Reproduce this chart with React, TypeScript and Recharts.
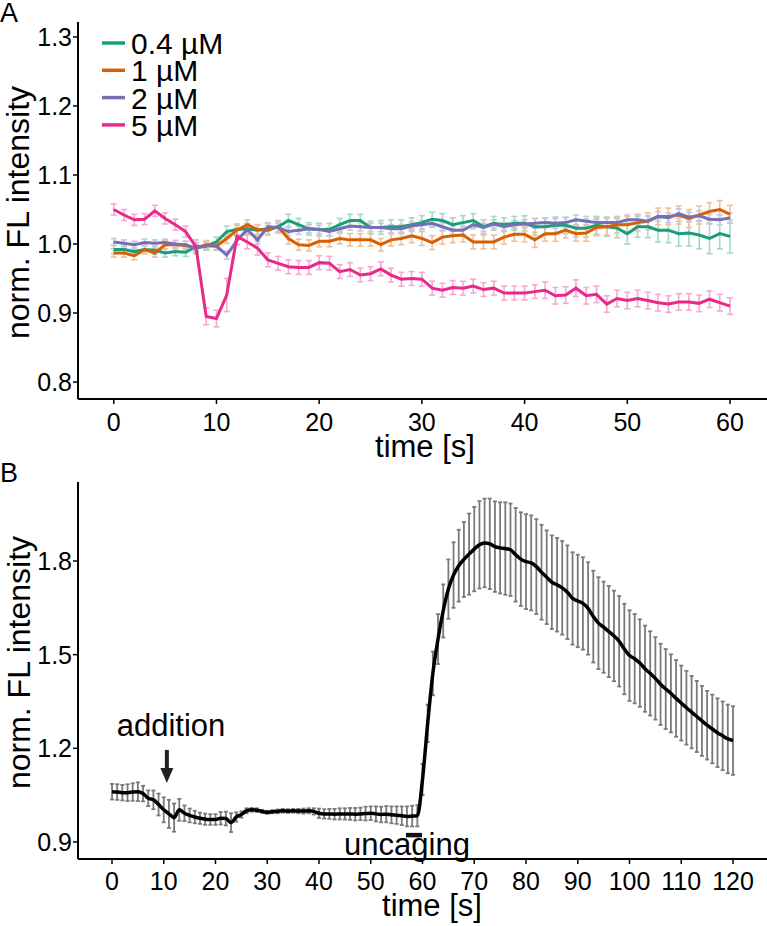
import React from 'react';
import { LineChart, Line, XAxis, YAxis, ErrorBar, ReferenceLine, ReferenceDot } from 'recharts';

const FONT = '"Liberation Sans", Arial, Helvetica, sans-serif';

// ---------- Panel A data ----------
const timeA = [0,1,2,3,4,5,6,7,8,9,10,11,12,13,14,15,16,17,18,19,20,21,22,23,24,25,26,27,28,29,30,31,32,33,34,35,36,37,38,39,40,41,42,43,44,45,46,47,48,49,50,51,52,53,54,55,56,57,58,59,60];
const green04 = [0.992,0.992,0.989,0.992,0.991,0.987,0.989,0.988,0.996,0.997,1.003,1.018,1.021,1.022,1.020,1.022,1.025,1.034,1.028,1.022,1.021,1.021,1.028,1.034,1.034,1.024,1.024,1.025,1.025,1.028,1.031,1.036,1.034,1.028,1.031,1.034,1.025,1.030,1.028,1.030,1.030,1.025,1.025,1.027,1.027,1.023,1.023,1.027,1.025,1.023,1.015,1.025,1.025,1.020,1.020,1.015,1.016,1.013,1.008,1.015,1.011];
const green04Err = [0.006,0.006,0.006,0.006,0.006,0.006,0.006,0.006,0.006,0.006,0.007,0.008,0.008,0.008,0.008,0.008,0.009,0.009,0.009,0.009,0.009,0.009,0.009,0.009,0.009,0.009,0.010,0.010,0.010,0.010,0.010,0.010,0.010,0.010,0.010,0.010,0.010,0.010,0.010,0.010,0.011,0.012,0.012,0.012,0.012,0.013,0.013,0.013,0.014,0.014,0.015,0.015,0.016,0.017,0.018,0.018,0.019,0.020,0.022,0.022,0.024];
const orange1 = [0.987,0.987,0.983,0.992,0.987,0.999,0.999,0.998,0.994,0.999,0.997,1.008,1.020,1.028,1.021,1.020,1.025,1.008,0.999,0.998,1.004,1.004,1.008,1.006,1.006,1.006,0.999,1.006,1.008,1.012,1.008,1.002,1.010,1.012,1.013,1.003,1.003,1.003,1.010,1.014,1.014,1.006,1.015,1.015,1.020,1.015,1.016,1.024,1.025,1.028,1.028,1.031,1.033,1.040,1.040,1.042,1.037,1.042,1.047,1.050,1.043];
const orange1Err = [0.006,0.006,0.006,0.006,0.006,0.006,0.006,0.006,0.006,0.006,0.006,0.007,0.007,0.007,0.007,0.007,0.008,0.008,0.008,0.008,0.008,0.008,0.008,0.009,0.009,0.009,0.009,0.009,0.009,0.010,0.010,0.010,0.010,0.010,0.010,0.010,0.010,0.010,0.010,0.010,0.011,0.011,0.011,0.011,0.011,0.011,0.012,0.012,0.012,0.012,0.012,0.012,0.012,0.012,0.012,0.013,0.013,0.013,0.013,0.013,0.013];
const purple2 = [1.003,1.001,0.999,1.002,1.001,1.002,1.000,0.999,0.994,0.997,0.997,0.984,1.005,1.021,1.006,1.025,1.024,1.018,1.020,1.022,1.021,1.018,1.022,1.026,1.025,1.024,1.024,1.022,1.022,1.026,1.028,1.030,1.025,1.020,1.020,1.028,1.024,1.029,1.025,1.028,1.029,1.030,1.031,1.030,1.031,1.035,1.033,1.031,1.031,1.031,1.035,1.035,1.033,1.040,1.038,1.044,1.039,1.041,1.036,1.035,1.038];
const purple2Err = [0.005,0.005,0.005,0.005,0.005,0.005,0.005,0.005,0.005,0.005,0.005,0.006,0.006,0.006,0.006,0.006,0.006,0.006,0.006,0.006,0.006,0.006,0.006,0.006,0.006,0.006,0.006,0.006,0.006,0.006,0.006,0.006,0.006,0.006,0.006,0.006,0.006,0.006,0.006,0.006,0.006,0.007,0.007,0.007,0.007,0.007,0.007,0.007,0.007,0.007,0.007,0.007,0.007,0.007,0.007,0.007,0.007,0.007,0.007,0.007,0.007];
const pink5 = [1.050,1.042,1.035,1.036,1.048,1.037,1.028,1.018,0.996,0.895,0.892,0.926,1.011,1.003,0.994,0.977,0.972,0.967,0.966,0.966,0.973,0.972,0.960,0.963,0.955,0.957,0.964,0.955,0.949,0.950,0.949,0.936,0.933,0.937,0.936,0.939,0.934,0.936,0.929,0.929,0.929,0.931,0.933,0.925,0.926,0.936,0.925,0.927,0.913,0.921,0.918,0.921,0.918,0.915,0.913,0.916,0.916,0.914,0.920,0.915,0.910];
const pink5Err = [0.008,0.008,0.008,0.008,0.008,0.008,0.008,0.008,0.010,0.012,0.012,0.024,0.012,0.010,0.010,0.010,0.010,0.010,0.010,0.010,0.010,0.010,0.010,0.010,0.010,0.010,0.010,0.010,0.010,0.010,0.010,0.010,0.010,0.010,0.010,0.010,0.010,0.010,0.010,0.010,0.010,0.010,0.012,0.012,0.012,0.012,0.012,0.012,0.012,0.012,0.012,0.012,0.012,0.012,0.012,0.012,0.012,0.012,0.012,0.012,0.012];
const xTicksA = [0,10,20,30,40,50,60];
const yTicksA = [0.8,0.9,1.0,1.1,1.2,1.3];
const legendA = ['0.4 µM','1 µM','2 µM','5 µM'];

// ---------- Panel B data ----------
const timeB = [0,1,2,3,4,5,6,7,8,9,10,11,12,13,14,15,16,17,18,19,20,21,22,23,24,25,26,27,28,29,30,31,32,33,34,35,36,37,38,39,40,41,42,43,44,45,46,47,48,49,50,51,52,53,54,55,56,57,58,59,60,61,62,63,64,65,66,67,68,69,70,71,72,73,74,75,76,77,78,79,80,81,82,83,84,85,86,87,88,89,90,91,92,93,94,95,96,97,98,99,100,101,102,103,104,105,106,107,108,109,110,111,112,113,114,115,116,117,118,119,120];
const meanB = [1.061,1.060,1.058,1.058,1.060,1.061,1.055,1.040,1.035,1.020,1.003,0.990,0.978,1.003,0.992,0.985,0.980,0.976,0.973,0.972,0.972,0.976,0.975,0.962,0.980,0.988,1.000,1.003,1.002,0.998,0.995,0.997,0.998,1.000,0.999,1.000,0.999,0.999,1.000,0.998,0.992,0.990,0.990,0.989,0.990,0.990,0.990,0.989,0.990,0.991,0.992,0.990,0.988,0.989,0.987,0.986,0.984,0.982,0.983,0.984,
1.100,1.280,1.440,1.550,1.640,1.710,1.755,1.785,1.805,1.822,1.838,1.852,1.858,1.855,1.846,1.842,1.840,1.836,1.820,1.806,1.798,1.794,1.782,1.764,1.748,1.732,1.724,1.714,1.700,1.680,1.672,1.664,1.648,1.622,1.601,1.588,1.574,1.560,1.543,1.518,1.497,1.487,1.473,1.455,1.440,1.424,1.405,1.390,1.376,1.360,1.345,1.330,1.316,1.302,1.288,1.274,1.262,1.250,1.240,1.230,1.225];
const errB = [0.025,0.025,0.025,0.027,0.028,0.030,0.025,0.025,0.030,0.035,0.040,0.045,0.045,0.035,0.025,0.022,0.020,0.018,0.018,0.017,0.017,0.020,0.022,0.030,0.015,0.010,0.008,0.006,0.006,0.005,0.005,0.005,0.006,0.006,0.006,0.006,0.007,0.008,0.008,0.010,0.015,0.015,0.016,0.017,0.018,0.018,0.019,0.020,0.020,0.022,0.022,0.024,0.025,0.026,0.027,0.028,0.030,0.032,0.033,0.034,
0.050,0.060,0.070,0.080,0.085,0.095,0.105,0.115,0.120,0.130,0.135,0.140,0.142,0.145,0.145,0.146,0.148,0.148,0.150,0.150,0.152,0.152,0.152,0.152,0.150,0.150,0.150,0.150,0.150,0.148,0.148,0.148,0.148,0.147,0.147,0.146,0.146,0.145,0.145,0.145,0.145,0.143,0.140,0.138,0.135,0.132,0.130,0.128,0.125,0.123,0.120,0.118,0.116,0.114,0.112,0.110,0.110,0.110,0.110,0.110,0.110];
const xTicksB = [0,10,20,30,40,50,60,70,80,90,100,110,120];
const yTicksB = [0.9,1.2,1.5,1.8];

const dataA = timeA.map((t, i) => ({
  t, g: green04[i], ge: green04Err[i], o: orange1[i], oe: orange1Err[i],
  p: purple2[i], pe: purple2Err[i], k: pink5[i], ke: pink5Err[i],
}));
const dataB = timeB.map((t, i) => ({ t, m: meanB[i], e: errB[i] }));

const COLORS = ['#1B9E77', '#D95F02', '#7570B3', '#E7298A'];
const LIGHT = ['#a4d8c9', '#f0bf9a', '#c8c6e1', '#f5a9d0'];
const KEYS = [['g', 'ge'], ['o', 'oe'], ['p', 'pe'], ['k', 'ke']];

const tickStyle = { fontSize: 25, fill: '#000', fontFamily: FONT };
const axisLineStyle = { stroke: '#000', strokeWidth: 2 };
const tickLineStyle = { stroke: '#000', strokeWidth: 1.5 };

const Arrow = (props: any) => {
  const { cx, cy } = props;
  if (cx == null || cy == null) return null;
  return (
    <g>
      <rect x={cx - 2} y={cy} width={4} height={20} fill="#222" />
      <polygon points={`${cx - 6.5},${cy + 18} ${cx + 6.5},${cy + 18} ${cx},${cy + 33}`} fill="#222" />
    </g>
  );
};

export default function App() {
  return (
    <div style={{ position: 'absolute', left: 0, top: 0, width: 767, height: 926, background: '#fff', fontFamily: FONT }}>
      <div style={{ position: 'absolute', left: 0, top: 0 }}>
        <LineChart width={767} height={470} data={dataA} margin={{ top: 22, right: 0, bottom: 0, left: 0 }}>
          <XAxis type="number" dataKey="t" domain={[-3.48, 63.6]} allowDataOverflow ticks={xTicksA} height={71}
            tick={tickStyle} tickSize={5} tickMargin={9} axisLine={axisLineStyle} tickLine={tickLineStyle} />
          <YAxis type="number" domain={[0.7754, 1.3217]} allowDataOverflow ticks={yTicksA} width={78}
            tick={tickStyle} tickSize={5} tickMargin={1} axisLine={axisLineStyle} tickLine={tickLineStyle}
            tickFormatter={(v: number) => v.toFixed(1)} />
          {KEYS.map(([k, e], i) => (
            <Line key={'eb' + k} dataKey={k} type="linear" stroke="none" dot={false} activeDot={false} isAnimationActive={false} legendType="none">
              <ErrorBar dataKey={e} width={3} stroke={LIGHT[i]} strokeWidth={1.6} direction="y" />
            </Line>
          ))}
          {KEYS.map(([k], i) => (
            <Line key={'ln' + k} dataKey={k} type="linear" stroke={COLORS[i]} strokeWidth={3} dot={false} activeDot={false} isAnimationActive={false} />
          ))}
        </LineChart>
      </div>
      <div style={{ position: 'absolute', left: 0, top: 460 }}>
        <LineChart width={767} height={466} data={dataB} margin={{ top: 22, right: 0, bottom: 0, left: 0 }}>
          <XAxis type="number" dataKey="t" domain={[-6.57, 126.57]} allowDataOverflow ticks={xTicksB} height={67}
            tick={tickStyle} tickSize={5} tickMargin={8} axisLine={axisLineStyle} tickLine={tickLineStyle} />
          <YAxis type="number" domain={[0.8455, 2.053]} allowDataOverflow ticks={yTicksB} width={78}
            tick={tickStyle} tickSize={5} tickMargin={1} axisLine={axisLineStyle} tickLine={tickLineStyle}
            tickFormatter={(v: number) => v.toFixed(1)} />
          <Line dataKey="m" type="linear" stroke="none" dot={false} activeDot={false} isAnimationActive={false} legendType="none">
            <ErrorBar dataKey="e" width={2} stroke="#7a7a7a" strokeWidth={1.8} direction="y" />
          </Line>
          <Line dataKey="m" type="monotone" stroke="#000" strokeWidth={3.5} dot={false} activeDot={false} isAnimationActive={false} />
          <ReferenceLine segment={[{ x: 56.8, y: 0.922 }, { x: 59.9, y: 0.922 }]} stroke="#111" strokeWidth={4.5} />
          <ReferenceDot x={10.6} y={1.195} r={0} shape={Arrow} />
        </LineChart>
      </div>
      <svg width={767} height={926} style={{ position: 'absolute', left: 0, top: 0, pointerEvents: 'none' }}>
        <g fontFamily={FONT} fill="#000">
          <text x={0} y={22} fontSize={27}>A</text>
          <text x={0} y={482} fontSize={27}>B</text>
          {legendA.map((s, i) => (
            <g key={s}>
              <line x1={102} x2={125} y1={43 + i * 27.3} y2={43 + i * 27.3} stroke={COLORS[i]} strokeWidth={3.5} />
              <text x={131} y={54 + i * 27.3} fontSize={30}>{s}</text>
            </g>
          ))}
          <text transform="translate(29,212.5) rotate(-90)" textAnchor="middle" fontSize={32}>norm. FL intensity</text>
          <text x={425} y={457} textAnchor="middle" fontSize={31}>time [s]</text>
          <text transform="translate(30,662.5) rotate(-90)" textAnchor="middle" fontSize={32}>norm. FL intensity</text>
          <text x={432} y={916} textAnchor="middle" fontSize={31}>time [s]</text>
          <text x={171} y={736} textAnchor="middle" fontSize={31}>addition</text>
          <text x={407} y={855} textAnchor="middle" fontSize={31}>uncaging</text>
        </g>
      </svg>
    </div>
  );
}
